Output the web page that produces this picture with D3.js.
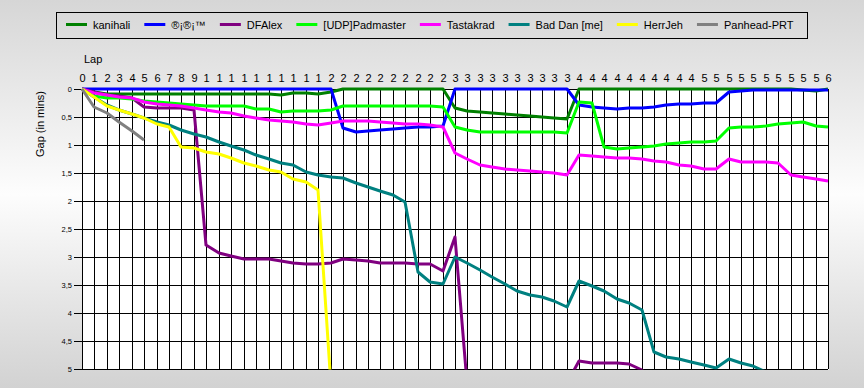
<!DOCTYPE html>
<html><head><meta charset="utf-8">
<script src="https://cdn.jsdelivr.net/npm/d3@7"></script>
<style>html,body{margin:0;padding:0;overflow:hidden;background:#fff}</style>
</head><body>
<svg id="c" width="864" height="388"></svg>
<script>
// ---------- DATA ----------
const laps = d3.range(0, 61);
const yTicks = [0, 0.5, 1, 1.5, 2, 2.5, 3, 3.5, 4, 4.5, 5];
const seriesNames = ["kanihali", "®¡®¡™", "DFAlex", "[UDP]Padmaster", "Tastakrad", "Bad Dan [me]", "HerrJeh", "Panhead-PRT"];
const seriesColors = ["#008000", "#0000ff", "#800080", "#00ff00", "#ff00ff", "#008080", "#ffff00", "#808080"];

const kanihali = [0,0.06,0.085,0.09,0.09,0.09,0.09,0.09,0.09,0.095,0.09,0.09,0.09,0.09,0.09,0.09,0.107,0.07,0.07,0.085,0.06,0,0,0,0,0,0,0,0,0,0.345,0.39,0.415,0.43,0.445,0.46,0.48,0.5,0.52,0.54,0,0,0,0,0,0,0,0,0,0,0,0,0,0,0,0,0,0,0.01,0.03,0];
const rir = [0,0,0,0,0,0,0,0,0,0,0,0,0,0,0,0,0,0,0,0,0,0.70,0.76,0.75,0.735,0.72,0.70,0.685,0.67,0.66,0,0,0,0,0,0,0,0,0,0,0.29,0.33,0.345,0.36,0.345,0.34,0.315,0.29,0.275,0.26,0.255,0.25,0.05,0.035,0.02,0.015,0.01,0.01,0.01,0.01,0.01];
const dfalex = [0,0.05,0.1,0.13,0.16,0.315,0.333,0.333,0.335,0.37,2.79,2.93,2.99,3.03,3.04,3.04,3.07,3.1,3.12,3.12,3.1,3.04,3.06,3.08,3.1,3.11,3.11,3.12,3.12,3.25,2.64,5.25,5.25,5.25,5.25,5.25,5.25,5.25,5.25,5.25,4.85,4.89,4.9,4.9,4.91,5.02,5.3];
const padmaster = [0,0.12,0.155,0.167,0.17,0.214,0.238,0.25,0.274,0.286,0.298,0.31,0.3,0.3,0.357,0.365,0.405,0.39,0.39,0.4,0.375,0.305,0.305,0.31,0.31,0.31,0.3,0.305,0.31,0.325,0.685,0.73,0.765,0.765,0.765,0.765,0.765,0.765,0.77,0.79,0.24,0.245,1.03,1.075,1.06,1.04,1.01,0.98,0.96,0.945,0.94,0.925,0.7,0.685,0.675,0.66,0.625,0.6,0.585,0.66,0.675];
const tastakrad = [0,0.07,0.115,0.135,0.155,0.23,0.26,0.28,0.305,0.34,0.37,0.41,0.43,0.49,0.52,0.545,0.575,0.59,0.62,0.643,0.605,0.565,0.565,0.58,0.595,0.605,0.62,0.63,0.64,0.685,1.15,1.255,1.355,1.4,1.42,1.44,1.46,1.48,1.505,1.535,1.18,1.195,1.21,1.225,1.24,1.255,1.28,1.3,1.355,1.375,1.42,1.435,1.25,1.3,1.305,1.31,1.315,1.535,1.58,1.61,1.64];
const badDan = [0,0.15,0.285,0.375,0.445,0.525,0.585,0.645,0.73,0.8,0.86,0.94,1.02,1.09,1.18,1.255,1.315,1.36,1.475,1.535,1.565,1.595,1.675,1.755,1.815,1.895,2.01,3.26,3.44,3.49,3.005,3.115,3.23,3.35,3.48,3.6,3.68,3.72,3.78,3.885,3.425,3.52,3.6,3.755,3.825,3.945,4.69,4.78,4.82,4.87,4.93,4.99,4.82,4.89,4.94,5.05,5.2];
const herrJeh = [0,0.15,0.3,0.375,0.445,0.525,0.625,0.685,1.03,1.06,1.12,1.165,1.24,1.315,1.375,1.445,1.49,1.6,1.655,1.805,5.3];
const panhead = [0,0.315,0.425,0.585,0.745,0.91];

const seriesValues = [kanihali, rir, dfalex, padmaster, tastakrad, badDan, herrJeh, panhead];

// ---------- LAYOUT ----------
const W = 864, H = 388;
const L = 82, R = 828, T = 89, B = 369;
const svg = d3.select("#c");
const font = "'Liberation Sans', Arial, sans-serif";

const defs = svg.append("defs");
const grad = defs.append("linearGradient").attr("id", "bg").attr("x1", 0).attr("y1", 0).attr("x2", 0).attr("y2", 1);
grad.append("stop").attr("offset", "0%").attr("stop-color", "#d6d6d6");
grad.append("stop").attr("offset", "50%").attr("stop-color", "#fdfdfd");
grad.append("stop").attr("offset", "100%").attr("stop-color", "#d2d2d2");
svg.append("rect").attr("width", W).attr("height", H).attr("fill", "url(#bg)");

defs.append("clipPath").attr("id", "clip").append("rect")
  .attr("x", L - 3).attr("y", T - 4).attr("width", R - L + 6).attr("height", B - T + 4.5);

const x = d3.scaleLinear().domain([0, 60]).range([L, R]).interpolate(d3.interpolateRound);
const y = d3.scaleLinear().domain([0, 5]).range([T, B]).interpolate(d3.interpolateRound);

svg.append("rect").attr("x", L).attr("y", T).attr("width", R - L + 1).attr("height", B - T + 1).attr("fill", "#fff");

// vertical grid + top labels
const gx = svg.append("g").attr("transform", `translate(0,${T})`)
  .call(d3.axisTop(x).tickValues(laps).tickSize(-(B - T)).tickPadding(7).tickSizeOuter(0)
    .tickFormat(d => String(d)[0]));
gx.select(".domain").remove();
gx.selectAll("line").attr("stroke", "#000");
gx.selectAll("text").attr("font-family", font).attr("font-size", 11).attr("fill", "#000");

// horizontal grid
const gy = svg.append("g").attr("transform", `translate(${L},0)`)
  .call(d3.axisLeft(y).tickValues(yTicks).tickSize(-(R - L)).tickFormat(""));
gy.select(".domain").remove();
gy.selectAll("line").attr("stroke", "#000");

// y ticks + labels
const gy2 = svg.append("g").attr("transform", `translate(${L},0)`)
  .call(d3.axisLeft(y).tickValues(yTicks).tickSize(8).tickPadding(2)
    .tickFormat(d => String(d).replace(".", ",")));
gy2.select(".domain").remove();
gy2.selectAll("line").attr("stroke", "#000");
gy2.selectAll("text").attr("font-family", font).attr("font-size", 7.5).attr("fill", "#000");

// lines
const line = d3.line().defined(d => d != null).x((d, i) => x(laps[i])).y(d => y(d));
const lg = svg.append("g").attr("clip-path", "url(#clip)");
seriesValues.forEach((vals, k) => {
  lg.append("path").datum(vals).attr("d", line)
    .attr("fill", "none").attr("stroke", seriesColors[k]).attr("stroke-width", 3)
    .attr("stroke-linejoin", "round").attr("stroke-linecap", "butt");
});

// titles
svg.append("text").attr("x", 84).attr("y", 63).attr("font-family", font).attr("font-size", 11).attr("fill", "#000").text("Lap");
svg.append("text").attr("transform", "translate(44,124) rotate(-90)").attr("text-anchor", "middle")
  .attr("font-family", font).attr("font-size", 11).attr("fill", "#000").text("Gap (in mins)");

// legend
const leg = svg.append("g");
leg.append("rect").attr("x", 56.5).attr("y", 12.5).attr("width", 751).attr("height", 26)
  .attr("fill", "none").attr("stroke", "#000").attr("stroke-width", 1);
let cx = 66;
seriesNames.forEach((n, k) => {
  leg.append("line").attr("x1", cx).attr("x2", cx + 21).attr("y1", 24.5).attr("y2", 24.5)
    .attr("stroke", seriesColors[k]).attr("stroke-width", 3);
  const t = leg.append("text").attr("x", cx + 27).attr("y", 29).attr("font-family", font)
    .attr("font-size", 11).attr("fill", "#000").text(n);
  cx = cx + 27 + t.node().getComputedTextLength() + 14;
});
</script>
</body></html>
